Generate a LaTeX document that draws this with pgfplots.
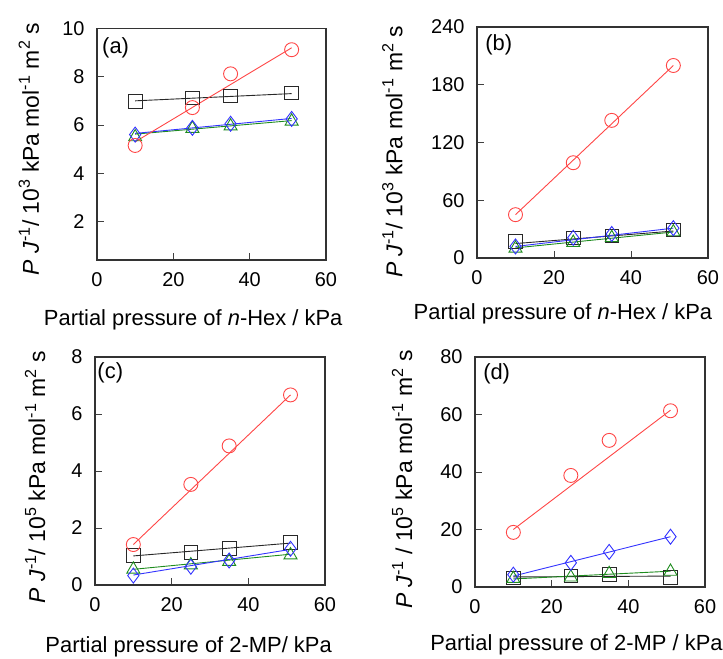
\documentclass[border=0pt]{standalone}
\usepackage{fontspec}
\setmainfont{Liberation Sans}
\usepackage{pgfplots}
\pgfplotsset{compat=1.18}
\definecolor{cred}{RGB}{255,70,70}
\definecolor{cblue}{RGB}{50,50,255}
\definecolor{cgreen}{RGB}{30,140,30}
\definecolor{cblack}{RGB}{40,40,40}
\pgfplotsset{
  panel/.style={
    scale only axis,
    anchor=south west,
    xmin=0, xmax=60,
    xtick={0,20,40,60},
    xtick pos=bottom, ytick pos=left,
    tick align=inside,
    major tick length=7bp,
    every tick/.style={black!75, line width=0.8bp},
    axis line style={black!80, line width=1.3bp},
    /pgf/number format/assume math mode=true,
    tick label style={font=\fontsize{20}{22}\selectfont},
    xticklabel style={yshift=-9bp},
    yticklabel style={xshift=-9bp},
    xlabel style={anchor=base, font=\fontsize{22}{24}\selectfont},
    ylabel style={anchor=center, font=\fontsize{23}{25}\selectfont},
    clip=false,
  },
  sred/.style={color=cred, line width=0.9bp, mark=o, mark size=7bp, only marks},
  sblack/.style={color=cblack, line width=0.9bp, mark=square, mark size=6.8bp, only marks},
  sblue/.style={color=cblue, line width=0.9bp, mark=diamond, mark size=7.5bp, only marks},
  sgreen/.style={color=cgreen, line width=0.9bp, mark=triangle, mark size=7.5bp, only marks},
  fred/.style={color=cred, line width=0.9bp, no marks},
  fblack/.style={color=cblack, line width=0.9bp, no marks},
  fblue/.style={color=cblue, line width=0.9bp, no marks},
  fgreen/.style={color=cgreen, line width=0.9bp, no marks},
}
\newcommand{\plab}[1]{\fontsize{22}{24}\selectfont #1}
\begin{document}
\begin{tikzpicture}
\path[use as bounding box] (0,0) rectangle (723bp,659bp);

% (a)
\begin{axis}[panel,
  at={(97bp,399bp)}, width=229bp, height=231.5bp,
  ymin=0.4, ymax=10, ytick={2,4,6,8,10},
  xlabel={Partial pressure of \textit{n}-Hex / kPa},
  xlabel style={at={(axis description cs:0.42,-0.281)}},
  ylabel={\textit{P J}\textsuperscript{-1}/ 10\textsuperscript{3} kPa mol\textsuperscript{-1} m\textsuperscript{2} s},
  ylabel style={at={(axis description cs:-0.297,0.48)}},
]
\addplot[fblack] coordinates {(10,7.0) (51,7.3)};
\addplot[fgreen] coordinates {(10,5.62) (51,6.18)};
\addplot[fblue] coordinates {(10,5.65) (51,6.27)};
\addplot[fred] coordinates {(10,5.3) (51,9.2)};
\addplot[sblack] coordinates {(10,6.98) (25,7.12) (35,7.2) (51,7.32)};
\addplot[sgreen] coordinates {(10,5.5) (25,5.85) (35,5.95) (51,6.15)};
\addplot[sblue] coordinates {(10,5.6) (25,5.88) (35,6.05) (51,6.25)};
\addplot[sred] coordinates {(10,5.15) (25,6.72) (35,8.12) (51,9.12)};
\node[anchor=north west, inner sep=0pt] at (axis description cs:0.022,0.96) {\plab{(a)}};
\end{axis}

% (b)
\begin{axis}[panel,
  at={(477bp,401bp)}, width=231bp, height=231bp,
  ymin=0, ymax=240, ytick={0,60,120,180,240},
  xlabel={Partial pressure of \textit{n}-Hex / kPa},
  xlabel style={at={(axis description cs:0.372,-0.268)}},
  ylabel={\textit{P J}\textsuperscript{-1}/ 10\textsuperscript{3} kPa mol\textsuperscript{-1} m\textsuperscript{2} s},
  ylabel style={at={(axis description cs:-0.366,0.46)}},
]
\addplot[fblack] coordinates {(10,15) (51,28)};
\addplot[fgreen] coordinates {(10,10.5) (51,27)};
\addplot[fblue] coordinates {(10,12) (51,31)};
\addplot[fred] coordinates {(10,45) (51,200)};
\addplot[sblack] coordinates {(10,17) (25,21) (35,23) (51,29)};
\addplot[sgreen] coordinates {(10,10) (25,16) (35,21) (51,27)};
\addplot[sblue] coordinates {(10,12) (25,21) (35,25) (51,31)};
\addplot[sred] coordinates {(10,45) (25,99) (35,143) (51,200)};
\node[anchor=north west, inner sep=0pt] at (axis description cs:0.035,0.97) {\plab{(b)}};
\end{axis}

% (c)
\begin{axis}[panel,
  at={(95bp,74bp)}, width=230bp, height=228bp,
  ymin=0, ymax=8, ytick={0,2,4,6,8},
  xlabel={Partial pressure of 2-MP/ kPa},
  xlabel style={at={(axis description cs:0.407,-0.298)}},
  ylabel={\textit{P J}\textsuperscript{-1}/ 10\textsuperscript{5} kPa mol\textsuperscript{-1} m\textsuperscript{2} s},
  ylabel style={at={(axis description cs:-0.26,0.474)}},
]
\addplot[fblack] coordinates {(10,1.02) (51,1.47)};
\addplot[fgreen] coordinates {(10,0.55) (51,1.08)};
\addplot[fblue] coordinates {(10,0.35) (51,1.25)};
\addplot[fred] coordinates {(10,1.42) (51,6.67)};
\addplot[sblack] coordinates {(10,1.03) (25,1.15) (35,1.28) (51,1.5)};
\addplot[sgreen] coordinates {(10,0.55) (25,0.7) (35,0.82) (51,1.05)};
\addplot[sblue] coordinates {(10,0.33) (25,0.64) (35,0.86) (51,1.27)};
\addplot[sred] coordinates {(10,1.42) (25,3.53) (35,4.88) (51,6.67)};
\node[anchor=north west, inner sep=0pt] at (axis description cs:0.01,0.975) {\plab{(c)}};
\end{axis}

% (d)
\begin{axis}[panel,
  at={(475bp,72bp)}, width=230bp, height=230bp,
  ymin=0, ymax=80, ytick={0,20,40,60,80},
  xlabel={Partial pressure of 2-MP / kPa},
  xlabel style={at={(axis description cs:0.441,-0.274)}},
  ylabel={\textit{P J}\textsuperscript{-1} / 10\textsuperscript{5} kPa mol\textsuperscript{-1} m\textsuperscript{2} s},
  ylabel style={at={(axis description cs:-0.317,0.467)}},
]
\addplot[fblack] coordinates {(10,3.5) (51,3.8)};
\addplot[fgreen] coordinates {(10,2.8) (51,5.5)};
\addplot[fblue] coordinates {(10,3.8) (51,17.5)};
\addplot[fred] coordinates {(10,20) (51,61.5)};
\addplot[sblack] coordinates {(10,3.2) (25,3.8) (35,4.4) (51,3.3)};
\addplot[sgreen] coordinates {(10,2.9) (25,3.4) (35,4.6) (51,5.4)};
\addplot[sblue] coordinates {(10,4.3) (25,8.4) (35,12.2) (51,17.5)};
\addplot[sred] coordinates {(10,19) (25,38.8) (35,51) (51,61.3)};
\node[anchor=north west, inner sep=0pt] at (axis description cs:0.035,0.97) {\plab{(d)}};
\end{axis}
\end{tikzpicture}
\end{document}
